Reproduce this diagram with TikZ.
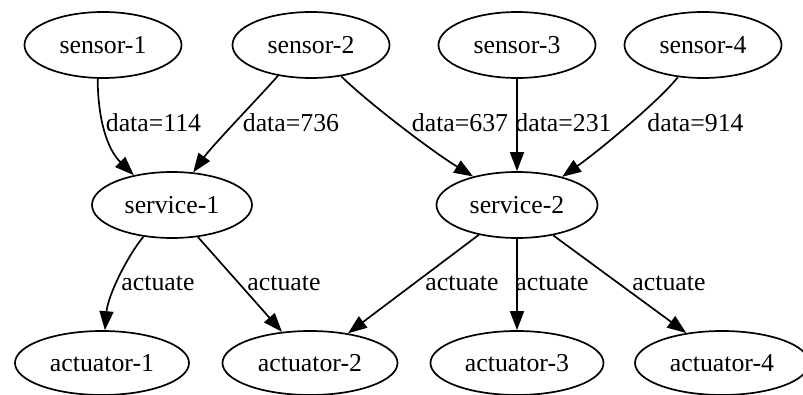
\documentclass[tikz,border=0pt]{standalone}
\usepackage{fontspec}
\setmainfont{Liberation Serif}
\usetikzlibrary{shapes.geometric,arrows.meta}
\begin{document}
\begin{tikzpicture}[x=1pt,y=1pt,
  every node/.style={font=\fontsize{25.8}{30}\selectfont},
  gvnode/.style={ellipse,draw,line width=1.7pt,inner sep=0pt,minimum height=66pt},
  anode/.style={gvnode,minimum height=64pt,minimum width=174pt},
  lbl/.style={inner sep=0pt,anchor=center},
  arr/.style={line width=1.7pt,-{Triangle[length=19pt,width=14pt]}}]
\useasboundingbox (0,0) rectangle (803,394);
% nodes
\node[gvnode,minimum width=157pt] (s1) at (103,349) {sensor-1};
\node[gvnode,minimum width=157pt] (s2) at (311,349) {sensor-2};
\node[gvnode,minimum width=157pt] (s3) at (517,349) {sensor-3};
\node[gvnode,minimum width=157pt] (s4) at (703,349) {sensor-4};
\node[gvnode,minimum width=160pt] (v1) at (172,189) {service-1};
\node[gvnode,minimum width=161pt] (v2) at (517,189) {service-2};
\node[anode] (a1) at (102,31) {actuator-1};
\node[anode,minimum width=175pt] (a2) at (310,31) {actuator-2};
\node[anode,minimum width=173pt] (a3) at (517,31) {actuator-3};
\node[anode] (a4) at (722,31) {actuator-4};
% edges
\draw[arr] (s1.-99) .. controls (98,272) and (108,244) .. (v1.142);
\draw[arr] (s2.-137) .. controls (262,300) and (212,248) .. (v1.57);
\draw[arr] (s2.-46) .. controls (365,294) and (430,244) .. (v2.147.5);
\draw[arr] (s3.south) -- (v2.north);
\draw[arr] (s4.-128) .. controls (660,294) and (600,244) .. (v2.32);
\draw[arr] (v1.-132) .. controls (128,139) and (108,99) .. (a1.85);
\draw[arr] (v1.-51) -- (a2.132);
\draw[arr] (v2.-142) -- (a2.38);
\draw[arr] (v2.south) -- (a3.north);
\draw[arr] (v2.-40) -- (a4.140);
% labels
\node[lbl] (l1) at (153.5,271) {data=114};
\node[lbl] (l2) at (291,271) {data=736};
\node[lbl] (l3) at (460,271) {data=637};
\node[lbl] (l4) at (563.5,271) {data=231};
\node[lbl] (l5) at (695.5,271) {data=914};
\node[lbl] (l6) at (158,111) {actuate};
\node[lbl] (l7) at (284,111) {actuate};
\node[lbl] (l8) at (462,111) {actuate};
\node[lbl] (l9) at (552,111) {actuate};
\node[lbl] (l10) at (669,111) {actuate};
\end{tikzpicture}
\end{document}
